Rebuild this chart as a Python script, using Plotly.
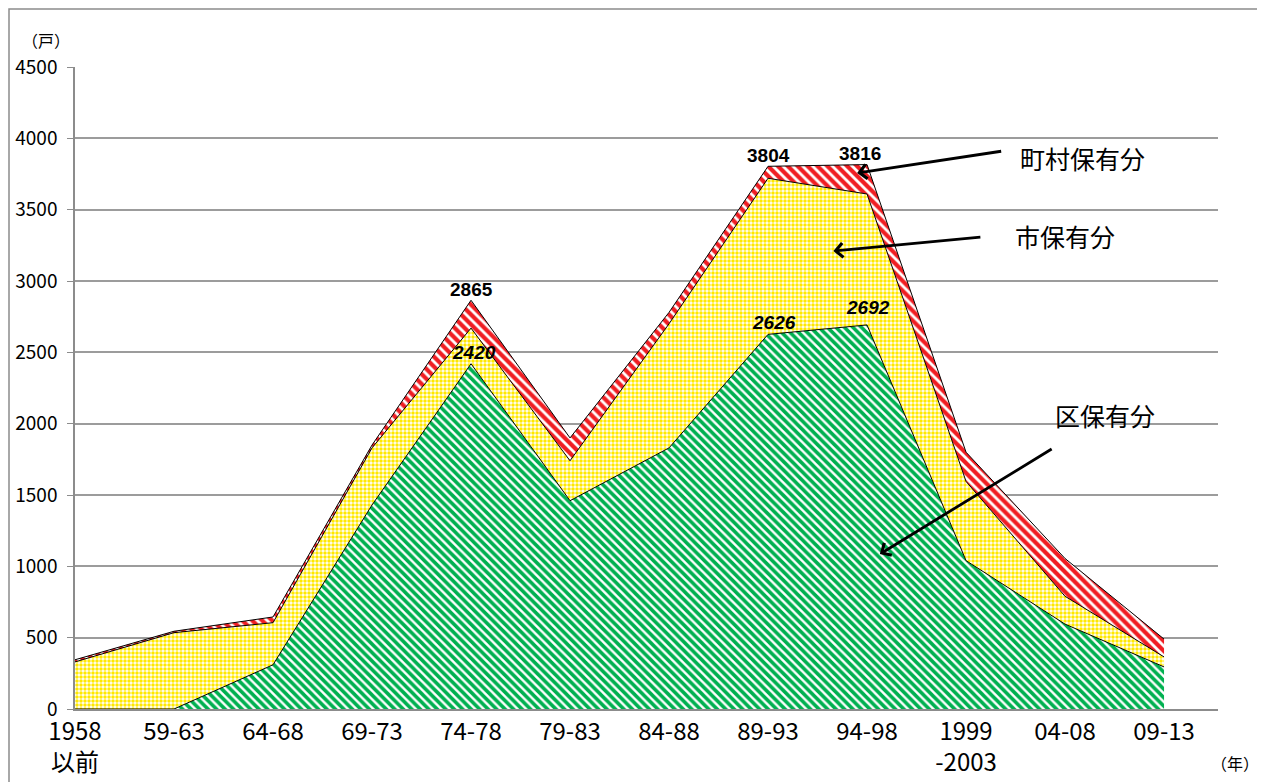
"""Public housing stock by construction period (stacked area)."""

import plotly.graph_objects as go

# ---- data ----
periods = ["1958<br>以前", "59-63", "64-68", "69-73", "74-78", "79-83",
           "84-88", "89-93", "94-98", "1999<br>-2003", "04-08", "09-13"]
ku = [0, 0, 310, 1430, 2420, 1460, 1830, 2626, 2692, 1040, 595, 295]       # 区保有分
shi = [330, 535, 295, 400, 250, 280, 870, 1094, 918, 555, 195, 70]       # 市保有分
chouson = [15, 10, 40, 20, 195, 160, 80, 84, 206, 205, 265, 125]         # 町村保有分

total = [a + b + c for a, b, c in zip(ku, shi, chouson)]
total[7], total[8] = 3804, 3816  # labelled totals

series_names = ["区保有分", "市保有分", "町村保有分"]

JP = "Noto Sans CJK JP"
NUM = "Liberation Sans"

# the page body adds an 8px margin; the figure is sized to fit the window
W, H = 1257, 774
OFF = 8
L, R, T, B = 75 - OFF, W - (1218 - OFF), 67 - OFF, H - (709 - OFF)


def px_x(px):
    return (px - 75) / 1143


def px_y(py):
    return (709 - py) / 642


fig = go.Figure()

fig.add_trace(go.Scatter(
    x=periods, y=ku, name=series_names[0], stackgroup="a", mode="lines",
    line=dict(color="black", width=1),
    fillcolor="white",
    fillpattern=dict(shape="\\", fgcolor="#00b050", bgcolor="white",
                     fgopacity=1, size=6, solidity=0.6),
))
fig.add_trace(go.Scatter(
    x=periods, y=shi, name=series_names[1], stackgroup="a", mode="lines",
    line=dict(color="black", width=1),
    fillcolor="white",
    fillpattern=dict(shape=".", fgcolor="#ffe800", bgcolor="white",
                     fgopacity=1, size=4, solidity=0.6),
))
fig.add_trace(go.Scatter(
    x=periods, y=chouson, name=series_names[2], stackgroup="a", mode="lines",
    line=dict(color="black", width=1),
    fillcolor="white",
    fillpattern=dict(shape="\\", fgcolor="#f01e23", bgcolor="white",
                     fgopacity=1, size=7, solidity=0.6),
))

ann = []


# value labels
def val_label(i, y, text, italic=False, xshift=0, yshift=0):
    t = f"<b>{text}</b>"
    if italic:
        t = f"<i>{t}</i>"
    ann.append(dict(x=periods[i], y=y, text=t, showarrow=False,
                    xanchor="center", yanchor="bottom",
                    xshift=xshift, yshift=yshift,
                    font=dict(family=NUM, size=19, color="black")))


val_label(4, total[4], total[4], yshift=-2)
val_label(4, ku[4], ku[4], italic=True, xshift=3, yshift=-1)
val_label(7, total[7], total[7], yshift=-2)
val_label(8, total[8], total[8], xshift=-7, yshift=-1)
val_label(7, ku[7], ku[7], italic=True, xshift=6, yshift=-1)
val_label(8, ku[8], ku[8], italic=True, xshift=1, yshift=5)

# series call-outs with arrows (head x/y, tail ax/ay in data units)
callouts = [
    (series_names[2], 7.90, 3757, 9.37, 3911, 1018, 158),
    (series_names[1], 7.66, 3210, 9.16, 3308, 1013, 236),
    (series_names[0], 8.13, 1086, 9.88, 1829, 1053, 415),
]
for name, hx, hy, tx, ty, lx, ly in callouts:
    ann.append(dict(x=hx, y=hy, ax=tx, ay=ty, xref="x", yref="y",
                    axref="x", ayref="y", text="", showarrow=True,
                    arrowhead=4, arrowsize=1, arrowwidth=2.8,
                    arrowcolor="black"))
    ann.append(dict(x=px_x(lx), y=px_y(ly),
                    xref="paper", yref="paper", text=name, showarrow=False,
                    xanchor="left", yanchor="middle",
                    font=dict(family=JP, size=25, color="black")))

# unit labels
ann.append(dict(x=px_x(46), y=px_y(40), xref="paper",
                yref="paper", text="（戸）", showarrow=False,
                xanchor="center", yanchor="middle",
                font=dict(family=JP, size=16, color="black")))
ann.append(dict(x=px_x(1261), y=px_y(763), xref="paper",
                yref="paper", text="（年）", showarrow=False,
                xanchor="right", yanchor="middle",
                font=dict(family=JP, size=16, color="black")))

fig.update_layout(
    width=W, height=H,
    margin=dict(l=L, r=R, t=T, b=B),
    paper_bgcolor="white", plot_bgcolor="white",
    showlegend=False,
    annotations=ann,
    shapes=[dict(type="rect", xref="paper", yref="paper",
                 x0=px_x(9), x1=px_x(1263),
                 y0=px_y(800), y1=px_y(9),
                 line=dict(color="#8c8c8c", width=1.5), layer="below")],
)

fig.update_xaxes(
    type="category", range=[0, 11.545], automargin=False,
    showgrid=False, showline=True, linecolor="#8c8c8c", linewidth=2,
    ticks="", tickfont=dict(family=JP, size=24, color="black"),
)
fig.update_yaxes(
    range=[0, 4500], dtick=500, automargin=False,
    showgrid=True, gridcolor="#9c9c9c", gridwidth=1.5,
    showline=True, linecolor="#8c8c8c", linewidth=1.5,
    ticks="outside", ticklen=6, tickcolor="#8c8c8c",
    ticklabelstandoff=6,
    tickfont=dict(family=JP, size=19, color="black"),
    zeroline=False,
)

fig.write_html("out.html")
